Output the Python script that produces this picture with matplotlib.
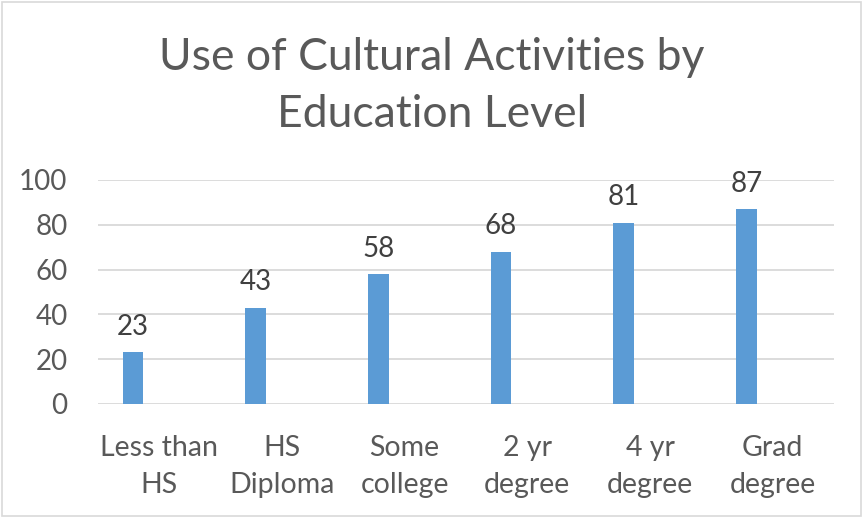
import matplotlib
matplotlib.use("Agg")
import matplotlib.pyplot as plt
import numpy as np
from matplotlib.patches import Rectangle

categories = ["Less than\nHS", "HS\nDiploma", "Some\ncollege", "2 yr\ndegree", "4 yr\ndegree", "Grad\ndegree"]
values = [23, 43, 58, 68, 81, 87]
yticks = [0, 20, 40, 60, 80, 100]
title = "Use of Cultural Activities by\nEducation Level"

plt.rcParams['font.family'] = ['Lato', 'DejaVu Sans']
txt = "#595959"

fig = plt.figure(figsize=(8.64, 5.18), dpi=100)
ax = fig.add_axes([98/864, 1-404/518, (834-98)/864, (404-180)/518])

x = np.arange(len(categories))
bars = ax.bar(x - 0.215, values, width=0.17, color="#5B9BD5", zorder=3)
for b, v in zip(bars, values):
    ax.annotate(str(v), (b.get_x() + b.get_width()/2, v), xytext=(0, 9),
                textcoords="offset points", ha="center", va="bottom",
                fontsize=20, color="#404040")

ax.set_xlim(-0.5, len(categories) - 0.5)
ax.set_ylim(0, 100)
ax.set_yticks(yticks)
ax.set_yticklabels([str(t) for t in yticks], fontsize=20, color=txt)
ax.set_xticks(x)
ax.set_xticklabels(categories, fontsize=20.5, color=txt, linespacing=1.55)
ax.tick_params(axis="both", length=0)
ax.tick_params(axis="y", pad=22)
ax.tick_params(axis="x", pad=22)
ax.grid(axis="y", color="#D9D9D9", linewidth=1.3, zorder=0)
for s in ax.spines.values():
    s.set_visible(False)

fig.text(0.5, 1 - 86/518, title, ha="center", va="center", fontsize=32,
         color=txt, linespacing=1.5)

fig.patches.append(Rectangle((0.002, 0.003), 0.994, 0.993, transform=fig.transFigure,
                             fill=False, edgecolor="#D9D9D9", linewidth=1.2))

fig.savefig("out.png", dpi=100)
